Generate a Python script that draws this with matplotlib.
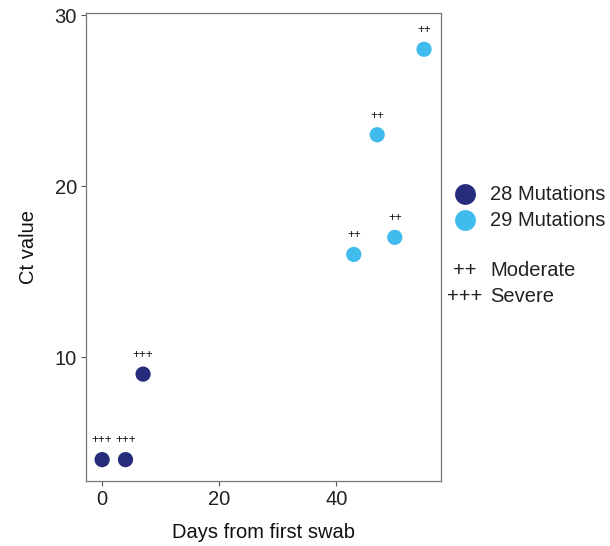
import matplotlib
matplotlib.use("Agg")
import matplotlib.pyplot as plt
from matplotlib.lines import Line2D

# Samples: days since first swab, Ct value, lineage group and severity tag
days_28 = [0, 4, 7]
ct_28 = [4, 4, 9]
sev_28 = ["+++", "+++", "+++"]

days_29 = [43, 47, 50, 55]
ct_29 = [16, 23, 17, 28]
sev_29 = ["++", "++", "++", "++"]

groups = ["28 Mutations", "29 Mutations"]
colors = ["#262b7c", "#3fbbec"]
severity_keys = ["++", "+++"]
severity_names = ["Moderate", "Severe"]

x_ticks = [0, 20, 40]
y_ticks = [10, 20, 30]

plt.rcParams["font.family"] = ["Liberation Sans", "DejaVu Sans"]

fig = plt.figure(figsize=(6.10, 5.46), dpi=100)
ax = fig.add_axes([86 / 610, 1 - 481 / 546, (441 - 86) / 610, (481 - 13) / 546])

for d, c, s, col in [(days_28, ct_28, sev_28, colors[0]),
                     (days_29, ct_29, sev_29, colors[1])]:
    ax.scatter(d, c, s=120, color=col, edgecolors="none", zorder=3)
    for xi, yi, tag in zip(d, c, s):
        ax.annotate(tag, (xi, yi), xytext=(0, 9.5), textcoords="offset points",
                    ha="center", va="bottom", fontsize=8.3, color="#111111")

ax.set_xlim(-2.75, 57.9)
ax.set_ylim(2.75, 30.12)
ax.set_xticks(x_ticks)
ax.set_yticks(y_ticks)
ax.tick_params(axis="both", labelsize=14.5, colors="#555555", length=3.5,
               width=0.8, pad=3)
ax.tick_params(axis="both", labelcolor="#222222")
for sp in ax.spines.values():
    sp.set_color("#777777")
    sp.set_linewidth(0.9)

ax.set_xlabel("Days from first swab", fontsize=14.5, color="#111111", labelpad=10)
ax.set_ylabel("Ct value", fontsize=14.5, color="#111111", labelpad=12)

# Legend drawn by hand at the right of the panel
marker_x = 465 / 610
text_x = 490 / 610
for name, col, ypix in zip(groups, colors, [194, 220]):
    yf = 1 - ypix / 546
    fig.add_artist(Line2D([marker_x], [yf], marker="o", markersize=15,
                          color=col, markeredgewidth=0, linestyle="none",
                          transform=fig.transFigure))
    fig.text(text_x, yf, name, fontsize=14.5, va="center", ha="left",
             color="#222222")

for key, name, ypix in zip(severity_keys, severity_names, [271, 297]):
    yf = 1 - ypix / 546
    fig.text(marker_x, yf, key, fontsize=14.5, va="center", ha="center",
             color="#222222")
    fig.text(text_x, yf, name, fontsize=14.5, va="center",
             ha="left", color="#222222")

fig.savefig("out.png", dpi=100)
